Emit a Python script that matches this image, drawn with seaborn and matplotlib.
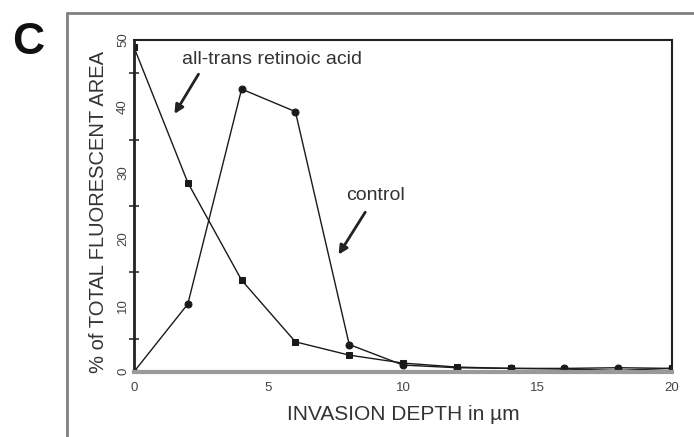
import matplotlib
matplotlib.use("Agg")
import matplotlib.pyplot as plt
from matplotlib.lines import Line2D
from matplotlib.ticker import MultipleLocator
import numpy as np
import pandas as pd
import seaborn as sns

# Invasion depth (µm) and share of total fluorescent area (%)
depth = [0, 2, 4, 6, 8, 10, 12, 14, 16, 18, 20]
control = [0.0, 10.2, 42.6, 39.2, 4.1, 1.0, 0.6, 0.5, 0.5, 0.6, 0.5]
retinoic = [48.9, 28.5, 13.8, 4.5, 2.5, 1.3, 0.7, 0.5, 0.4, 0.2, 0.5]

series_names = ["control", "all-trans retinoic acid"]
x_ticks = [0, 5, 10, 15, 20]
y_ticks = [0, 10, 20, 30, 40, 50]

df = pd.DataFrame({
    "depth": depth * 2,
    "area": control + retinoic,
    "series": [series_names[0]] * len(depth) + [series_names[1]] * len(depth),
})

sns.set_theme(style="white")
plt.rcParams["font.family"] = ["Liberation Sans", "DejaVu Sans"]

fig = plt.figure(figsize=(6.94, 4.37), dpi=100)
ax = fig.add_axes([0.1931, 0.1494, 0.9683 - 0.1931, 0.9085 - 0.1494])

sns.lineplot(
    data=df, x="depth", y="area", hue="series", style="series",
    palette={series_names[0]: "#1a1a1a", series_names[1]: "#1a1a1a"},
    markers={series_names[0]: "o", series_names[1]: "s"},
    dashes=False, markersize=5, linewidth=1.0, legend=False, ax=ax,
    markeredgecolor="#1a1a1a",
)

ax.set_xlim(0, 20)
ax.set_ylim(0, 50)
ax.set_xticks(x_ticks)
ax.set_yticks(y_ticks)
ax.yaxis.set_minor_locator(MultipleLocator(5))
ax.tick_params(axis="both", which="both", direction="inout", colors="#333333",
               labelsize=9.5, labelcolor="#444444")
ax.tick_params(axis="y", which="major", length=7, width=1.2, pad=0)
ax.tick_params(axis="y", which="minor", length=7, width=1.2, left=True)
ax.tick_params(axis="x", which="major", length=7, width=1.0, pad=4)
for lbl in ax.get_yticklabels():
    lbl.set_rotation(90)
    lbl.set_va("center")

ax.set_xlabel("INVASION DEPTH in µm", fontsize=15, color="#333333", labelpad=8)
ax.set_ylabel("% of TOTAL FLUORESCENT AREA", fontsize=14.5, color="#333333", labelpad=10)
ax.yaxis.set_label_coords(-0.048, 0.48)

for side in ["top", "right", "left"]:
    ax.spines[side].set_visible(True)
    ax.spines[side].set_color("#222222")
ax.spines["top"].set_linewidth(1.5)
ax.spines["right"].set_linewidth(1.5)
ax.spines["left"].set_linewidth(2.0)
ax.spines["bottom"].set_color("#9a9a9a")
ax.spines["bottom"].set_linewidth(3.0)

# Series annotations with arrows
ax.annotate("", xy=(1.45, 38.5), xytext=(2.45, 45.2),
            arrowprops=dict(arrowstyle="-|>", color="#222222", lw=2.0,
                            mutation_scale=13))
ax.text(1.8, 47.0, series_names[1], fontsize=14, color="#333333",
        ha="left", va="center")
ax.annotate("", xy=(7.55, 17.3), xytext=(8.65, 24.4),
            arrowprops=dict(arrowstyle="-|>", color="#222222", lw=2.0,
                            mutation_scale=13))
ax.text(7.9, 26.5, series_names[0], fontsize=14, color="#333333",
        ha="left", va="center")

# Panel frame and letter
fig.add_artist(Line2D([67 / 694, 67 / 694], [0, 1 - 13 / 437],
                      color="#808080", lw=2.0))
fig.add_artist(Line2D([67 / 694, 1], [1 - 13 / 437, 1 - 13 / 437],
                      color="#808080", lw=2.0))
fig.text(28 / 694, 1 - 43 / 437, "C", fontsize=32, fontweight="bold",
         color="#111111", ha="center", va="center")

fig.savefig("out.png", dpi=100, facecolor="white")
